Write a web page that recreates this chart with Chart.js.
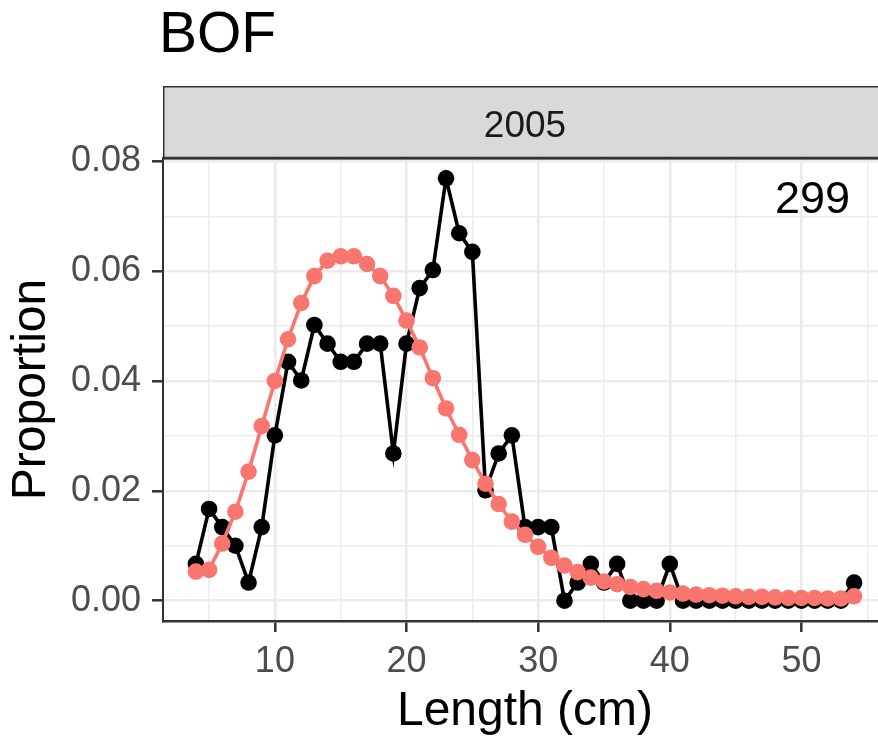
<!DOCTYPE html>
<html>
<head>
<meta charset="utf-8">
<script src="https://cdn.jsdelivr.net/npm/chart.js@4.4.1/dist/chart.umd.min.js"></script>
<style>
  html, body { margin: 0; padding: 0; background: #fff; overflow: hidden; width: 878px; height: 736px; }
  .wrap { position: relative; width: 878px; height: 736px; overflow: hidden; }
  canvas { position: absolute; left: 0; top: 0; }
</style>
</head>
<body>
<div class="wrap"><canvas id="myChart" width="887" height="736"></canvas></div>
<script>
/* global Chart */

const lengths = [4, 5, 6, 7, 8, 9, 10, 11, 12, 13, 14, 15, 16, 17, 18, 19, 20, 21, 22, 23, 24, 25, 26, 27, 28, 29,
  30, 31, 32, 33, 34, 35, 36, 37, 38, 39, 40, 41, 42, 43, 44, 45, 46, 47, 48, 49, 50, 51, 52, 53, 54];

// observed proportions (black)
const observed = [0.0067, 0.0167, 0.0134, 0.0100, 0.0033, 0.0134, 0.0301, 0.0435, 0.0401, 0.0502, 0.0468,
  0.0435, 0.0435, 0.0468, 0.0468, 0.0268, 0.0468, 0.0569, 0.0602, 0.0769, 0.0669, 0.0635, 0.0201, 0.0268,
  0.0301, 0.0134, 0.0134, 0.0134, 0, 0.0033, 0.0067, 0.0033, 0.0067, 0, 0, 0, 0.0067, 0, 0, 0, 0, 0, 0, 0,
  0, 0, 0, 0, 0, 0, 0.0033];

// predicted proportions (red)
const predicted = [0.0053, 0.0056, 0.0104, 0.0162, 0.0235, 0.0318, 0.0400, 0.0476, 0.0542, 0.0591, 0.0619,
  0.0627, 0.0627, 0.0613, 0.0591, 0.0555, 0.0510, 0.0461, 0.0405, 0.0350, 0.0302, 0.0256, 0.0213, 0.0176,
  0.0144, 0.0120, 0.0098, 0.0078, 0.0064, 0.0052, 0.0042, 0.0035, 0.0030, 0.0025, 0.0021, 0.0018, 0.0015,
  0.0013, 0.0011, 0.0010, 0.0009, 0.0008, 0.0007, 0.0007, 0.0006, 0.0005, 0.0005, 0.0005, 0.0004, 0.0004,
  0.0008];

const xMajor = [10, 20, 30, 40, 50];
const xMinor = [5, 15, 25, 35, 45, 55];
const xTickLabels = ['10', '20', '30', '40', '50'];
const yMajor = [0, 0.02, 0.04, 0.06, 0.08];
const yMinor = [0.01, 0.03, 0.05, 0.07];
const yTickLabels = ['0.00', '0.02', '0.04', '0.06', '0.08'];

const plotTitle = 'BOF';
const stripLabel = '2005';
const sampleSize = '299';

const FONT = '"Liberation Sans", Arial, sans-serif';

function isMajor(ctx, major) {
  return ctx.tick ? major.indexOf(ctx.tick.value) >= 0 : false;
}

function pointsOf(values) {
  return lengths.map(function (len, i) {
    return { x: len, y: values[i] };
  });
}

const stripPlugin = {
  id: 'strip',
  afterDraw: function (chart) {
    const ctx = chart.ctx;
    const area = chart.chartArea;
    const w = chart.width;
    ctx.save();

    // facet strip
    ctx.fillStyle = '#D9D9D9';
    ctx.fillRect(area.left, 86, w - area.left, area.top - 86);
    ctx.strokeStyle = '#333333';
    ctx.lineWidth = 1.5;
    ctx.strokeRect(area.left + 0.75, 86.75, w, area.top - 86);
    ctx.lineWidth = 2.6;
    ctx.beginPath();
    ctx.moveTo(area.left, area.top);
    ctx.lineTo(w, area.top);
    ctx.stroke();

    ctx.fillStyle = '#1A1A1A';
    ctx.font = '37px ' + FONT;
    ctx.textAlign = 'center';
    ctx.textBaseline = 'middle';
    ctx.fillText(stripLabel, (area.left + area.right) / 2, 127);

    // title
    ctx.fillStyle = '#000000';
    ctx.font = '57px ' + FONT;
    ctx.textAlign = 'left';
    ctx.textBaseline = 'alphabetic';
    ctx.fillText(plotTitle, 159, 52);

    // sample size label
    const xs = chart.scales.x;
    const ys = chart.scales.y;
    ctx.font = '45px ' + FONT;
    ctx.textAlign = 'right';
    ctx.textBaseline = 'middle';
    ctx.fillText(sampleSize, xs.getPixelForValue(53.7), ys.getPixelForValue(0.0729));
    ctx.restore();
  }
};

new Chart(document.getElementById('myChart').getContext('2d'), {
  type: 'line',
  data: {
    datasets: [{
      label: 'Observed',
      data: pointsOf(observed),
      borderColor: '#000000',
      backgroundColor: '#000000',
      borderWidth: 3.6,
      pointRadius: 8.3,
      pointBorderWidth: 0,
      tension: 0,
      order: 1
    },
    {
      label: 'Predicted',
      data: pointsOf(predicted),
      borderColor: '#F8766D',
      backgroundColor: '#F8766D',
      borderWidth: 3.6,
      pointRadius: 8.3,
      pointBorderWidth: 0,
      tension: 0,
      order: 0
    }]
  },
  options: {
    responsive: false,
    animation: false,
    devicePixelRatio: 1,
    clip: false,
    layout: { autoPadding: false, padding: { top: 158, left: 0, right: 0, bottom: 0 } },
    plugins: {
      legend: { display: false },
      tooltip: { enabled: false }
    },
    scales: {
      x: {
        type: 'linear',
        min: 1.5,
        max: 56.5,
        afterFit: function (scale) { scale.height = 115; },
        afterBuildTicks: function (scale) {
          scale.ticks = xMinor.concat(xMajor).sort(function (a, b) { return a - b; })
            .map(function (v) { return { value: v }; });
        },
        ticks: {
          autoSkip: false,
          maxRotation: 0,
          padding: 8,
          color: '#4D4D4D',
          font: { family: FONT, size: 36 },
          callback: function (value) {
            const i = xMajor.indexOf(value);
            return i >= 0 ? xTickLabels[i] : '';
          }
        },
        grid: {
          color: '#EBEBEB',
          lineWidth: function (ctx) { return isMajor(ctx, xMajor) ? 2.6 : 1.4; },
          tickLength: 11,
          tickWidth: 2.5,
          tickColor: function (ctx) { return isMajor(ctx, xMajor) ? '#333333' : 'rgba(0,0,0,0)'; }
        },
        border: { display: true, color: '#333333', width: 2.5 },
        title: {
          display: true,
          text: 'Length (cm)',
          color: '#000000',
          font: { family: FONT, size: 48, lineHeight: 1 },
          padding: { top: 0, bottom: 0 }
        }
      },
      y: {
        min: -0.0037,
        max: 0.0806,
        afterFit: function (scale) { scale.width = 163; },
        afterBuildTicks: function (scale) {
          scale.ticks = yMinor.concat(yMajor).sort(function (a, b) { return a - b; })
            .map(function (v) { return { value: v }; });
        },
        ticks: {
          autoSkip: false,
          padding: 11,
          color: '#4D4D4D',
          font: { family: FONT, size: 36 },
          callback: function (value) {
            const i = yMajor.indexOf(value);
            return i >= 0 ? yTickLabels[i] : '';
          }
        },
        grid: {
          color: '#EBEBEB',
          lineWidth: function (ctx) { return isMajor(ctx, yMajor) ? 2.6 : 1.4; },
          tickLength: 11,
          tickWidth: 2.5,
          tickColor: function (ctx) { return isMajor(ctx, yMajor) ? '#333333' : 'rgba(0,0,0,0)'; }
        },
        border: { display: true, color: '#333333', width: 2 },
        title: {
          display: true,
          text: 'Proportion',
          color: '#000000',
          font: { family: FONT, size: 48, lineHeight: 1 },
          padding: { top: 8, bottom: 0 }
        }
      }
    }
  },
  plugins: [stripPlugin]
});
</script>
</body>
</html>
